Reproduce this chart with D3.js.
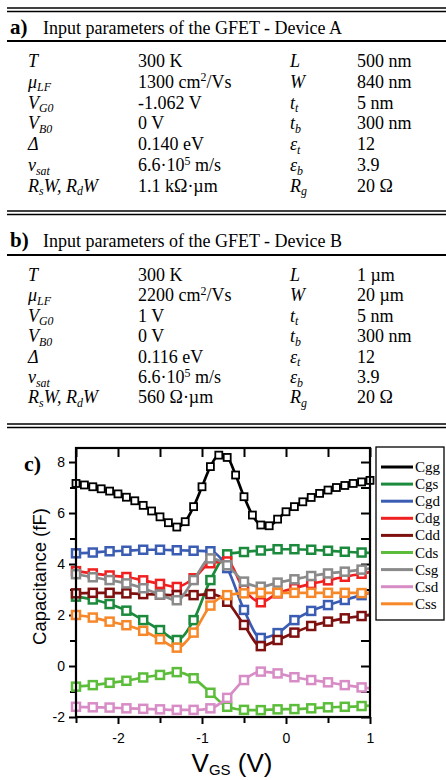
<!DOCTYPE html>
<html>
<head>
<meta charset="utf-8">
<script src="https://cdn.jsdelivr.net/npm/d3@7/dist/d3.min.js"></script>
<style>
  body { margin: 0; background: #fff; }
</style>
</head>
<body>
<div id="fig"></div>
<script>
// --- parameter tables (symbol, value, symbol, value) ---
var devA = [
  ['T', '300 K', 'L', '500 nm'],
  ['\u03bc_{LF}', '1300 cm^{2}/Vs', 'W', '840 nm'],
  ['V_{G0}', '-1.062 V', 't_{t}', '5 nm'],
  ['V_{B0}', '0 V', 't_{b}', '300 nm'],
  ['\u0394', '0.140 eV', '\u03b5_{t}', '12'],
  ['v_{sat}', '6.6\u00b710^{5} m/s', '\u03b5_{b}', '3.9'],
  ['R_{s}W, R_{d}W', '1.1 k\u03a9\u00b7\u00b5m', 'R_{g}', '20 \u03a9']
];
var devB = [
  ['T', '300 K', 'L', '1 \u00b5m'],
  ['\u03bc_{LF}', '2200 cm^{2}/Vs', 'W', '20 \u00b5m'],
  ['V_{G0}', '1 V', 't_{t}', '5 nm'],
  ['V_{B0}', '0 V', 't_{b}', '300 nm'],
  ['\u0394', '0.116 eV', '\u03b5_{t}', '12'],
  ['v_{sat}', '6.6\u00b710^{5} m/s', '\u03b5_{b}', '3.9'],
  ['R_{s}W, R_{d}W', '560 \u03a9\u00b7\u00b5m', 'R_{g}', '20 \u03a9']
];

// --- capacitances vs gate voltage (fF) ---
var vgsFine = [-2.5, -2.4, -2.3, -2.2, -2.1, -2.0, -1.9, -1.8, -1.7, -1.6, -1.5, -1.4,
  -1.3, -1.2, -1.1, -1.0, -0.9, -0.8, -0.7, -0.6, -0.5, -0.4, -0.3, -0.2,
  -0.1, 0.0, 0.1, 0.2, 0.3, 0.4, 0.5, 0.6, 0.7, 0.8, 0.9, 1.0];
var vgs = [-2.5, -2.3, -2.1, -1.9, -1.7, -1.5, -1.3, -1.1, -0.9, -0.7, -0.5, -0.3,
  -0.1, 0.1, 0.3, 0.5, 0.7, 0.9, 1.0];

var cgg = [7.16, 7.10, 7.03, 6.95, 6.86, 6.75, 6.62, 6.48, 6.30, 6.08, 5.85, 5.62,
  5.45, 5.66, 6.25, 7.03, 7.82, 8.27, 8.18, 7.49, 6.64, 5.92, 5.53, 5.50,
  5.76, 6.05, 6.25, 6.44, 6.61, 6.77, 6.90, 7.00, 7.08, 7.16, 7.22, 7.28];
var cgs = [2.72, 2.61, 2.43, 2.17, 1.80, 1.41, 1.02, 1.80, 3.37, 4.38, 4.47, 4.53, 4.58, 4.58, 4.56, 4.52, 4.48, 4.45, 4.44];
var cgd = [4.42, 4.45, 4.50, 4.52, 4.56, 4.56, 4.54, 4.52, 4.50, 3.84, 2.20, 1.10, 1.29, 1.80, 2.16, 2.39, 2.59, 2.78, 2.88];
var cdg = [3.72, 3.63, 3.55, 3.49, 3.36, 3.22, 3.10, 3.44, 4.03, 4.10, 3.00, 2.50, 2.85, 3.05, 3.22, 3.36, 3.50, 3.62, 3.68];
var cdd = [2.85, 2.87, 2.87, 2.85, 2.82, 2.80, 2.78, 2.78, 2.82, 2.52, 1.61, 0.78, 1.02, 1.31, 1.57, 1.74, 1.87, 1.96, 2.02];
var cds = [-0.81, -0.75, -0.66, -0.58, -0.45, -0.35, -0.24, -0.48, -1.05, -1.60, -1.72, -1.73, -1.70, -1.69, -1.66, -1.62, -1.60, -1.57, -1.55];
var csg = [3.60, 3.48, 3.37, 3.24, 3.05, 2.80, 2.58, 3.37, 4.22, 3.95, 3.31, 3.11, 3.27, 3.40, 3.53, 3.63, 3.70, 3.78, 3.82];
var csd = [-1.60, -1.62, -1.63, -1.66, -1.68, -1.70, -1.72, -1.72, -1.66, -1.25, -0.55, -0.22, -0.29, -0.44, -0.55, -0.64, -0.75, -0.84, -0.88];
var css = [2.00, 1.90, 1.74, 1.60, 1.38, 1.05, 0.72, 1.31, 2.37, 2.78, 2.85, 2.87, 2.87, 2.87, 2.87, 2.87, 2.87, 2.86, 2.86];

var seriesNames = ['Cgg', 'Cgs', 'Cgd', 'Cdg', 'Cdd', 'Cds', 'Csg', 'Csd', 'Css'];
var seriesColors = ['#000000', '#1b8a3c', '#3a5db3', '#f02020', '#7f1010', '#5cbd3a', '#8a8a8a', '#d88cc6', '#f7882a'];

var xMajor = [-2, -1, 0, 1];
var xMinor = [-2.5, -1.5, -0.5, 0.5];
var yMajor = [-2, 0, 2, 4, 6, 8];
var yMinor = [-1, 1, 3, 5, 7];

var W = 446, H = 780;
var serif = '"Liberation Serif", "Times New Roman", serif';
var sans = '"Liberation Sans", Arial, sans-serif';

var svg = d3.select('#fig').append('svg')
  .attr('width', W).attr('height', H);

// split "V_{G0}" style markup into plain / sub / sup pieces
function pieces(s) {
  var out = [], re = /_\{([^}]*)\}|\^\{([^}]*)\}|([^_^]+)/g, m;
  while ((m = re.exec(s))) {
    if (m[1] != null) out.push({ t: m[1], k: 'sub' });
    else if (m[2] != null) out.push({ t: m[2], k: 'sup' });
    else out.push({ t: m[3], k: 'n' });
  }
  return out;
}

function richText(g, x, y, s, size, italic) {
  var t = g.append('text').attr('x', x).attr('y', y)
    .attr('font-family', serif).attr('font-size', size)
    .attr('font-style', italic ? 'italic' : 'normal');
  var cur = 0;
  pieces(s).forEach(function(p) {
    var off = p.k === 'sub' ? size * 0.2 : p.k === 'sup' ? -size * 0.36 : 0;
    t.append('tspan')
      .attr('dy', off - cur)
      .attr('font-size', p.k === 'n' ? size : size * 0.66)
      .text(p.t);
    cur = off;
  });
}

function doubleRule(y) {
  [y, y + 3.5].forEach(function(yy) {
    svg.append('line').attr('x1', 7).attr('x2', W)
      .attr('y1', yy).attr('y2', yy)
      .attr('stroke', '#000').attr('stroke-width', 1.3);
  });
}

function table(label, title, rows, titleY, ruleY, rowY, step) {
  var g = svg.append('g');
  g.append('text').attr('x', 10).attr('y', titleY)
    .attr('font-family', serif).attr('font-size', 21).attr('font-weight', 'bold')
    .text(label);
  g.append('text').attr('x', 43).attr('y', titleY)
    .attr('font-family', serif).attr('font-size', 18)
    .text(title);
  g.append('line').attr('x1', 7).attr('x2', W)
    .attr('y1', ruleY).attr('y2', ruleY)
    .attr('stroke', '#000').attr('stroke-width', 2);
  var cols = [28, 138, 290, 357];
  rows.forEach(function(r, i) {
    var yy = rowY + i * step;
    r.forEach(function(cell, j) {
      richText(g, cols[j], yy, cell, 18, j % 2 === 0);
    });
  });
}

doubleRule(8);
table('a)', 'Input parameters of the GFET - Device A', devA, 34, 41, 67, 20.8);
doubleRule(211);
table('b)', 'Input parameters of the GFET - Device B', devB, 247, 255, 281, 20.4);
doubleRule(424);

// --- panel c: capacitance plot ---
var pL = 76, pR = 370, pT = 448, pB = 717;

var x = d3.scaleLinear().domain([-2.5, 1]).range([pL, pR]);
var y = d3.scaleLinear().domain([-2, 8.55]).range([pB, pT]);

svg.append('text').attr('x', 24).attr('y', 471)
  .attr('font-family', serif).attr('font-size', 22).attr('font-weight', 'bold')
  .text('c)');

function plain(d) { return String(d); }

function tickStyle(g, w) {
  g.select('.domain').remove();
  g.selectAll('.tick line').attr('stroke', '#000').attr('stroke-width', w);
  g.selectAll('.tick text').attr('font-family', sans).attr('font-size', 14).attr('fill', '#000');
}

// bottom axis, ticks outward
svg.append('g').attr('transform', 'translate(0,' + pB + ')')
  .call(d3.axisBottom(x).tickValues(xMajor).tickFormat(plain).tickSize(7).tickPadding(9))
  .call(tickStyle, 2);
svg.append('g').attr('transform', 'translate(0,' + pB + ')')
  .call(d3.axisBottom(x).tickValues(xMinor).tickFormat('').tickSize(6))
  .call(tickStyle, 2);
// top axis, ticks inward
svg.append('g').attr('transform', 'translate(0,' + pT + ')')
  .call(d3.axisTop(x).tickValues(xMajor.concat(xMinor)).tickFormat('').tickSize(-9))
  .call(tickStyle, 2);
// left axis, ticks outward
svg.append('g').attr('transform', 'translate(' + pL + ',0)')
  .call(d3.axisLeft(y).tickValues(yMajor).tickFormat(plain).tickSize(7).tickPadding(4))
  .call(tickStyle, 2);
svg.append('g').attr('transform', 'translate(' + pL + ',0)')
  .call(d3.axisLeft(y).tickValues(yMinor).tickFormat('').tickSize(6))
  .call(tickStyle, 2);
// right axis, ticks inward
svg.append('g').attr('transform', 'translate(' + pR + ',0)')
  .call(d3.axisRight(y).tickValues(yMajor.concat(yMinor)).tickFormat('').tickSize(-9))
  .call(tickStyle, 2);

var series = [
  { name: 'Cgg', vx: vgsFine, vy: cgg },
  { name: 'Cgs', vx: vgs, vy: cgs },
  { name: 'Cgd', vx: vgs, vy: cgd },
  { name: 'Cdg', vx: vgs, vy: cdg },
  { name: 'Cdd', vx: vgs, vy: cdd },
  { name: 'Cds', vx: vgs, vy: cds },
  { name: 'Csg', vx: vgs, vy: csg },
  { name: 'Csd', vx: vgs, vy: csd },
  { name: 'Css', vx: vgs, vy: css }
];

var line = d3.line()
  .x(function(d) { return x(d[0]); })
  .y(function(d) { return y(d[1]); })
  .curve(d3.curveMonotoneX);

var plot = svg.append('g');
series.forEach(function(s, k) {
  var col = seriesColors[k];
  var fine = s.vx === vgsFine;
  var pts = s.vx.map(function(v, i) { return [v, s.vy[i]]; });
  plot.append('path').datum(pts)
    .attr('d', line).attr('fill', 'none')
    .attr('stroke', col).attr('stroke-width', 2.7);
  // the coarse series end on the axis without a marker
  var marked = fine ? pts : pts.slice(0, pts.length - 1);
  var sz = fine ? 7 : 8;
  plot.selectAll(null).data(marked).enter().append('rect')
    .attr('x', function(d) { return x(d[0]) - sz / 2; })
    .attr('y', function(d) { return y(d[1]) - sz / 2; })
    .attr('width', sz).attr('height', sz)
    .attr('fill', '#fff').attr('stroke', col)
    .attr('stroke-width', fine ? 1.8 : 2.5);
});

// frame
svg.append('rect').attr('x', pL).attr('y', pT)
  .attr('width', pR - pL).attr('height', pB - pT)
  .attr('fill', 'none').attr('stroke', '#000').attr('stroke-width', 2.2);

// axis titles
svg.append('text')
  .attr('transform', 'translate(46,' + ((pT + pB) / 2 - 6) + ') rotate(-90)')
  .attr('text-anchor', 'middle')
  .attr('font-family', sans).attr('font-size', 18.5)
  .text('Capacitance (fF)');

var xt = svg.append('text').attr('x', (pL + pR) / 2 + 9).attr('y', 772)
  .attr('text-anchor', 'middle')
  .attr('font-family', sans).attr('font-size', 26);
xt.append('tspan').text('V');
xt.append('tspan').attr('font-size', 15).attr('dy', 3).text('GS');
xt.append('tspan').attr('dy', -3).text(' (V)');

// legend
var lg = svg.append('g');
lg.append('rect').attr('x', 376).attr('y', 447).attr('width', 68).attr('height', 173)
  .attr('fill', '#fff').attr('stroke', '#000').attr('stroke-width', 1.3);
seriesNames.forEach(function(n, i) {
  var ly = 467 + i * 17.1;
  lg.append('line').attr('x1', 381).attr('x2', 413).attr('y1', ly).attr('y2', ly)
    .attr('stroke', seriesColors[i]).attr('stroke-width', 3);
  lg.append('text').attr('x', 415).attr('y', ly + 5)
    .attr('font-family', serif).attr('font-size', 15)
    .text(n);
});
</script>
</body>
</html>
